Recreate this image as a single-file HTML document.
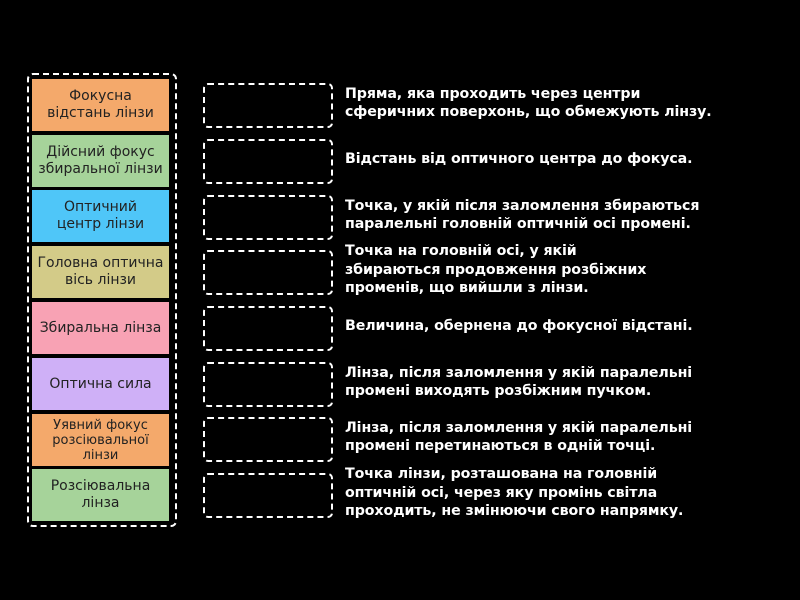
<!DOCTYPE html>
<html><head><meta charset="utf-8"><style>
body{margin:0;background:#000;width:800px;height:600px;position:relative;overflow:hidden;font-family:"DejaVu Sans","Liberation Sans",sans-serif}
.outer{position:absolute;left:27px;top:73px;width:146px;height:450px;border:2px dashed #fff;border-radius:6px}
.card{position:absolute;left:32px;width:137px;height:52px;display:flex;align-items:center;justify-content:center;text-align:center;font-size:14px;line-height:17px;color:#222}
.slot{position:absolute;left:203px;width:126px;height:41px;border:2px dashed #fff;border-radius:5px}
.t{position:absolute;left:345px;color:#fff;font-weight:bold;font-size:14.2px;letter-spacing:-0.1px;line-height:18.5px;display:flex;align-items:center;height:44px;width:450px}
</style></head><body>
<div class="outer"></div>
<div class="card" style="top:79px;background:#f4a96b">Фокусна<br>відстань лінзи</div>
<div class="card" style="top:135px;background:#a6d39a">Дійсний фокус<br>збиральної лінзи</div>
<div class="card" style="top:190px;background:#4fc6f8">Оптичний<br>центр лінзи</div>
<div class="card" style="top:246px;background:#d3cb88">Головна оптична<br>вісь лінзи</div>
<div class="card" style="top:302px;background:#f8a2b4">Збиральна лінза</div>
<div class="card" style="top:358px;background:#cfb0f7">Оптична сила</div>
<div class="card" style="top:414px;background:#f4a96b;font-size:13px;line-height:15px">Уявний фокус<br>розсіювальної<br>лінзи</div>
<div class="card" style="top:469px;background:#a6d39a">Розсіювальна<br>лінза</div>

<div class="slot" style="top:83px"></div>
<div class="slot" style="top:139px"></div>
<div class="slot" style="top:195px"></div>
<div class="slot" style="top:250px"></div>
<div class="slot" style="top:306px"></div>
<div class="slot" style="top:362px"></div>
<div class="slot" style="top:417px"></div>
<div class="slot" style="top:473px"></div>

<div class="t" style="top:81px">Пряма, яка проходить через центри<br>сферичних поверхонь, що обмежують лінзу.</div>
<div class="t" style="top:137px">Відстань від оптичного центра до фокуса.</div>
<div class="t" style="top:193px">Точка, у якій після заломлення збираються<br>паралельні головній оптичній осі промені.</div>
<div class="t" style="top:248px">Точка на головній осі, у якій<br>збираються продовження розбіжних<br>променів, що вийшли з лінзи.</div>
<div class="t" style="top:304px">Величина, обернена до фокусної відстані.</div>
<div class="t" style="top:360px">Лінза, після заломлення у якій паралельні<br>промені виходять розбіжним пучком.</div>
<div class="t" style="top:415px">Лінза, після заломлення у якій паралельні<br>промені перетинаються в одній точці.</div>
<div class="t" style="top:471px">Точка лінзи, розташована на головній<br>оптичній осі, через яку промінь світла<br>проходить, не змінюючи свого напрямку.</div>
</body></html>
